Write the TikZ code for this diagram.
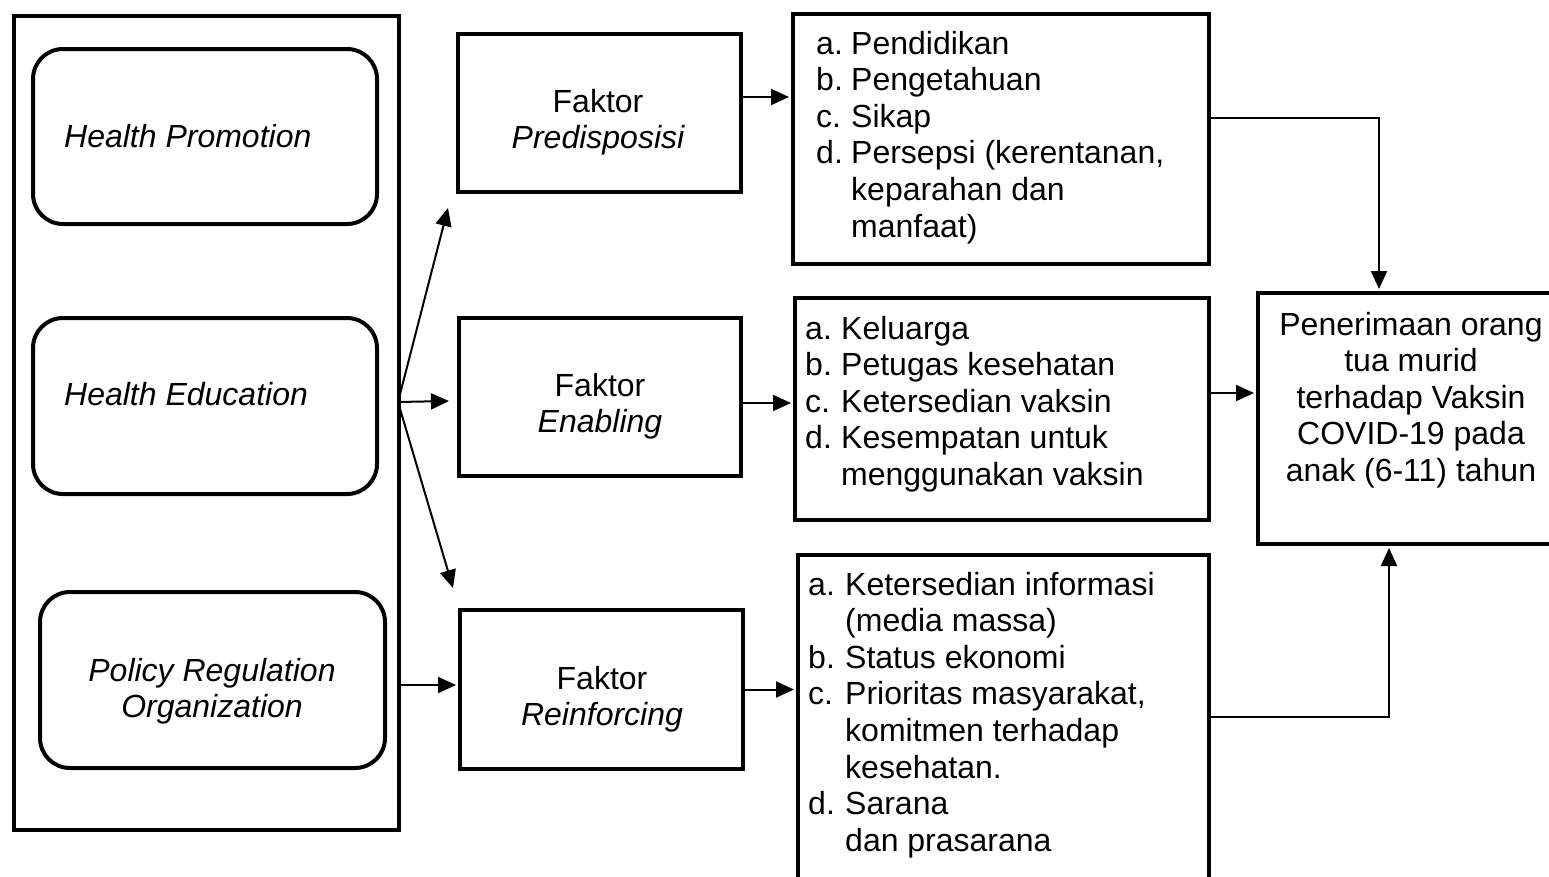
\documentclass[tikz,border=0pt]{standalone}
\usepackage{fontspec}
\setmainfont{Liberation Sans}
\usetikzlibrary{arrows.meta}
\newcommand\lbl[2][36pt]{\makebox[#1][l]{#2}}
\begin{document}
\begin{tikzpicture}[x=1pt,y=-1pt,
 box/.style={draw, line width=4pt, inner sep=0pt, anchor=north west},
 rbox/.style={box, rounded corners=30pt},
 txt/.style={inner sep=0pt, font=\fontsize{32}{36.6}\selectfont},
 arr/.style={line width=2pt, -{Triangle[length=18pt,width=16pt]}},
 arrn/.style={arr, shorten >=2pt}]
\useasboundingbox (0,0) rectangle (1549,876);
\fill[white] (0,0) rectangle (1549,876);
% boxes
\node[box, minimum width=385pt, minimum height=814pt] (outer) at (12,14) {};
\node[rbox, minimum width=344pt, minimum height=175pt] (hp) at (31,47) {};
\node[rbox, minimum width=344pt, minimum height=176pt] (he) at (31,316) {};
\node[rbox, minimum width=345pt, minimum height=176pt] (pr) at (38,590) {};
\node[box, minimum width=283pt, minimum height=158pt] (f1) at (456,32) {};
\node[box, minimum width=282pt, minimum height=158pt] (f2) at (457,316) {};
\node[box, minimum width=283pt, minimum height=159pt] (f3) at (458,608) {};
\node[box, minimum width=416pt, minimum height=250pt] (l1) at (791,12) {};
\node[box, minimum width=414pt, minimum height=222pt] (l2) at (793,296) {};
\node[box, minimum width=411pt, minimum height=360pt] (l3) at (796,553) {};
\node[box, minimum width=330pt, minimum height=251pt] (res) at (1256,291) {};
% texts
\node[txt, anchor=base west] (thp) at (64,147) {\itshape Health Promotion};
\node[txt, anchor=base west] (the) at (64,405) {\itshape Health Education};
\node[txt, anchor=base] (tpr) at (212,681) {\begin{tabular}[t]{@{}c@{}}\itshape Policy Regulation\\ \itshape Organization\end{tabular}};
\node[txt, anchor=base] (tf1) at (598,112) {\begin{tabular}[t]{@{}c@{}}Faktor\\ \itshape Predisposisi\end{tabular}};
\node[txt, anchor=base] (tf2) at (600,396) {\begin{tabular}[t]{@{}c@{}}Faktor\\ \itshape Enabling\end{tabular}};
\node[txt, anchor=base] (tf3) at (602,689) {\begin{tabular}[t]{@{}c@{}}Faktor\\ \itshape Reinforcing\end{tabular}};
\node[txt, anchor=base west] (tl1) at (816,54) {\begin{tabular}[t]{@{}l@{}}
\lbl[35pt]{a.}Pendidikan\\
\lbl[35pt]{b.}Pengetahuan\\
\lbl[35pt]{c.}Sikap\\
\lbl[35pt]{d.}Persepsi (kerentanan,\\
\lbl[35pt]{}keparahan dan\\
\lbl[35pt]{}manfaat)\end{tabular}};
\node[txt, anchor=base west] (tl2) at (805,339) {\begin{tabular}[t]{@{}l@{}}
\lbl{a.}Keluarga\\
\lbl{b.}Petugas kesehatan\\
\lbl{c.}Ketersedian vaksin\\
\lbl{d.}Kesempatan untuk\\
\lbl{}menggunakan vaksin\end{tabular}};
\node[txt, anchor=base west] (tl3) at (808,595) {\begin{tabular}[t]{@{}l@{}}
\lbl[37pt]{a.}Ketersedian informasi\\
\lbl[37pt]{}(media massa)\\
\lbl[37pt]{b.}Status ekonomi\\
\lbl[37pt]{c.}Prioritas masyarakat,\\
\lbl[37pt]{}komitmen terhadap\\
\lbl[37pt]{}kesehatan.\\
\lbl[37pt]{d.}Sarana\\
\lbl[37pt]{}dan prasarana\end{tabular}};
\node[txt, anchor=base] (tres) at (1411,335) {\begin{tabular}[t]{@{}c@{}}
Penerimaan orang\\ tua murid\\ terhadap Vaksin\\ COVID-19 pada\\ anak (6-11) tahun\end{tabular}};
% connectors
\coordinate (fan) at (398,402);
\coordinate (up) at (448,208);
\coordinate (mid) at (449,401);
\coordinate (dn) at (453,588);
\draw[arr] (fan) -- (up);
\draw[arr] (fan) -- (mid);
\draw[arr] (fan) -- (dn);
\coordinate (pa) at (398,685);
\draw[arrn] (pa) -- (pa -| f3.west);
\coordinate (a1) at (741,97);
\draw[arrn] (a1) -- (a1 -| l1.west);
\coordinate (a2) at (741,403);
\draw[arrn] (a2) -- (a2 -| l2.west);
\draw[arrn] (f3.east) -- (f3.east -| l3.west);
\coordinate (b2) at (1207,393);
\draw[arrn] (b2) -- (b2 -| res.west);
\coordinate (t1) at (1379,118);
\draw[arrn] (l1.east |- t1) -- (t1) -- (t1 |- res.north);
\coordinate (t3) at (1389,717);
\draw[arrn] (l3.east |- t3) -- (t3) -- (t3 |- res.south);
\end{tikzpicture}
\end{document}
